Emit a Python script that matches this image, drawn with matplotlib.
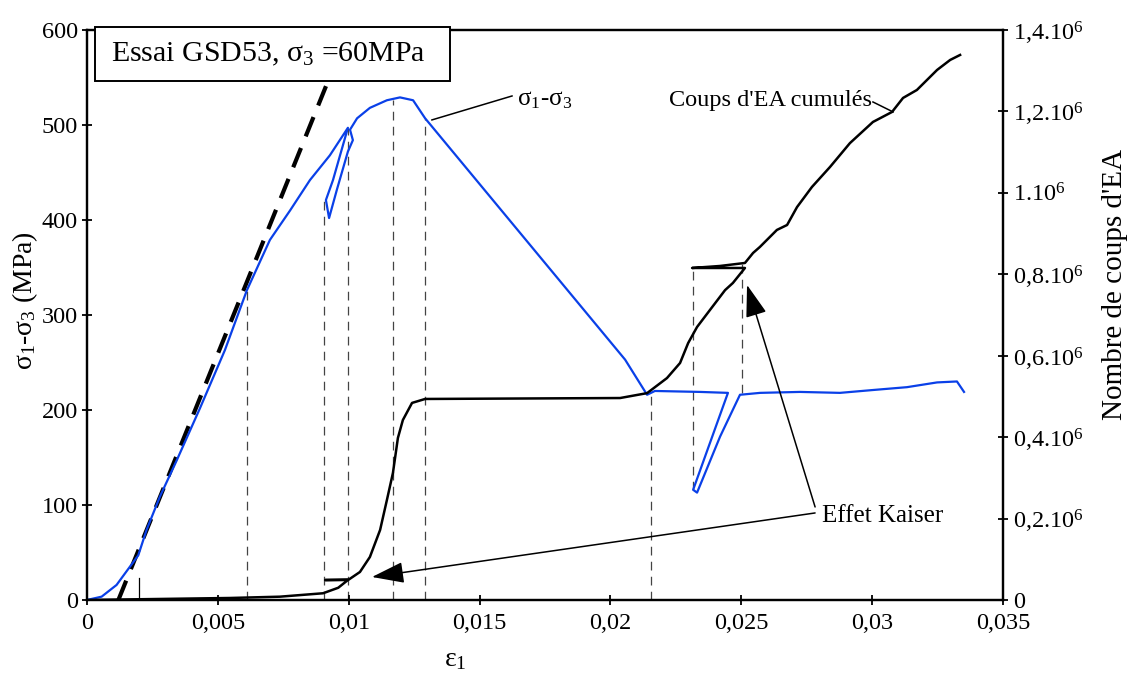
import matplotlib
matplotlib.use('Agg')
import matplotlib.pyplot as plt
from matplotlib.patches import Rectangle

plt.rcParams['font.family'] = ['Liberation Serif', 'DejaVu Serif']

# sigma1-sigma3 (MPa) vs eps1
eps_s = [0, 0.00056, 0.00113, 0.00164, 0.00196, 0.00228, 0.00279, 0.00343, 0.00432, 0.00527,
         0.00611, 0.00699, 0.00776, 0.00852, 0.00928, 0.00997,
         0.00940, 0.00913, 0.00925, 0.00955, 0.00997, 0.01016, 0.01005,
         0.01032, 0.01081, 0.01146, 0.01196, 0.01246, 0.01292, 0.02056, 0.0214,
         0.0217, 0.02342, 0.02449, 0.02316, 0.02331, 0.02419, 0.02495,
         0.02572, 0.02724, 0.02877, 0.03003, 0.03133, 0.03248, 0.03324, 0.03351]
sig = [0, 3.5, 15.8, 35, 47, 74, 109, 147, 202, 263,
       326, 379, 410, 442, 468, 497,
       442, 421, 402, 432, 472, 484, 495,
       507, 518, 526, 529, 526, 507, 253, 216,
       220, 219, 218, 116, 113, 172, 216,
       218, 219, 218, 221, 224, 229, 230, 219]

# cumulated AE counts vs eps1
eps_n = [0, 0.00546, 0.00737, 0.00902, 0.00960, 0.00997, 0.00910, 0.01000,
         0.01043, 0.01081, 0.0112, 0.01146, 0.01169, 0.01188, 0.01207, 0.01242, 0.01292,
         0.02037, 0.0214, 0.02216, 0.02266, 0.02297, 0.02331, 0.0238, 0.02438, 0.02468, 0.02514,
         0.02312, 0.02418, 0.02514, 0.02545, 0.02571, 0.02636, 0.02675, 0.02713, 0.0277,
         0.02839, 0.02915, 0.03003, 0.03076, 0.03118, 0.03171, 0.03248, 0.03298, 0.03336]
n_ea = [0, 4900, 8100, 16500, 30000, 49000, 49000, 50000,
        68800, 105600, 172000, 245600, 312000, 398000, 442000, 484000, 493700,
        496000, 508000, 545000, 582000, 631000, 670500, 712000, 761000, 778600, 815400,
        815400, 820300, 827700, 852300, 867000, 908800, 921000, 965000, 1014400,
        1063500, 1122000, 1174000, 1198600, 1233000, 1252600, 1301700, 1326300, 1338600]

# tangent (elastic) line
eps_tan = [0.0012, 0.0100]
sig_tan = [0, 600]

# dashed reference lines: eps, bottom, top (MPa)
vl_eps = [0.00611, 0.00905, 0.00997, 0.0117, 0.01292, 0.02155, 0.02316, 0.02504]
vl_bot = [0, 0, 0, 0, 0, 0, 116, 218]
vl_top = [326, 424, 497, 526, 507, 216, 349, 356]

x_ticks = [0, 0.005, 0.01, 0.015, 0.02, 0.025, 0.03, 0.035]
x_labels = ['0', '0,005', '0,01', '0,015', '0,02', '0,025', '0,03', '0,035']
y_ticks = [0, 100, 200, 300, 400, 500, 600]
n_ticks = [0, 0.2e6, 0.4e6, 0.6e6, 0.8e6, 1.0e6, 1.2e6, 1.4e6]
n_labels = ['0', '0,2.10$\\mathregular{^6}$', '0,4.10$\\mathregular{^6}$', '0,6.10$\\mathregular{^6}$',
            '0,8.10$\\mathregular{^6}$', '1.10$\\mathregular{^6}$', '1,2.10$\\mathregular{^6}$',
            '1,4.10$\\mathregular{^6}$']

blue = '#0a40e8'

fig = plt.figure(figsize=(11.28, 6.73), dpi=100)
ax = fig.add_axes([0.0771, 0.1085, 0.8121, 0.847])
ax2 = ax.twinx()

ax.plot(eps_tan, sig_tan, color='black', lw=3, dashes=(5, 3), zorder=2)
for e, b, t in zip(vl_eps, vl_bot, vl_top):
    ax.plot([e, e], [b, t], color='#444444', lw=0.9, dashes=(7, 5), zorder=1)
ax.plot([0.002, 0.002], [2, 23], color='black', lw=0.9)
ax.plot(eps_s, sig, color=blue, lw=1.6, zorder=3)

ax2.plot(eps_n, n_ea, color='black', lw=1.8)

ax.set_xlim(0, 0.035)
ax.set_ylim(0, 600)
ax2.set_ylim(0, 1.4e6)
ax.set_xticks(x_ticks)
ax.set_xticklabels(x_labels)
ax.set_yticks(y_ticks)
ax2.set_yticks(n_ticks)
ax2.set_yticklabels(n_labels)

for a in (ax, ax2):
    a.tick_params(direction='inout', length=7, width=1.3, labelsize=17.5, pad=3)
    for s in a.spines.values():
        s.set_linewidth(1.6)
ax.tick_params(axis='x', pad=6)
ax2.tick_params(axis='y', pad=4)

ax.text(-0.068, 0.526, 'σ$\\mathregular{_1}$-σ$\\mathregular{_3}$ (MPa)', transform=ax.transAxes,
        rotation=90, ha='center', va='center', fontsize=20)
ax.text(1.122, 0.553, "Nombre de coups d'EA", transform=ax.transAxes,
        rotation=90, ha='center', va='center', fontsize=21)
ax.text(0.402, -0.105, 'ε$\\mathregular{_1}$', transform=ax.transAxes,
        ha='center', va='center', fontsize=20)

# title box
ax2.add_patch(Rectangle((0.0087, 0.9105), 0.3876, 0.0947, transform=ax2.transAxes,
                        facecolor='white', edgecolor='black', lw=1.4, clip_on=False, zorder=5))
ax2.text(0.026, 0.958, 'Essai GSD53, σ$\\mathregular{_3}$ =60MPa', transform=ax2.transAxes,
         ha='left', va='center', fontsize=21.5, zorder=6)

# curve labels
ax.text(0.01643, 526, 'σ$\\mathregular{_1}$-σ$\\mathregular{_3}$', ha='left', va='center', fontsize=18)
ax.plot([0.01624, 0.01318], [530.5, 505.3], color='black', lw=1.1)
ax.text(0.0300, 526, "Coups d'EA cumulés", ha='right', va='center', fontsize=17.5)
ax.plot([0.03003, 0.0308], [524.2, 513.7], color='black', lw=1.1)

# Kaiser arrows
ax.text(0.02808, 88.4, 'Effet Kaiser', ha='left', va='center', fontsize=18)
arrow = dict(arrowstyle='-|>,head_length=1.0,head_width=0.33', color='black', lw=1.1,
             mutation_scale=20, shrinkA=0, shrinkB=0)
ax.annotate('', xy=(0.01089, 24.2), xytext=(0.02782, 91.6), arrowprops=arrow)
ax.annotate('', xy=(0.02522, 331.6), xytext=(0.02782, 97.9), arrowprops=arrow)

fig.savefig('out.png', dpi=100)
